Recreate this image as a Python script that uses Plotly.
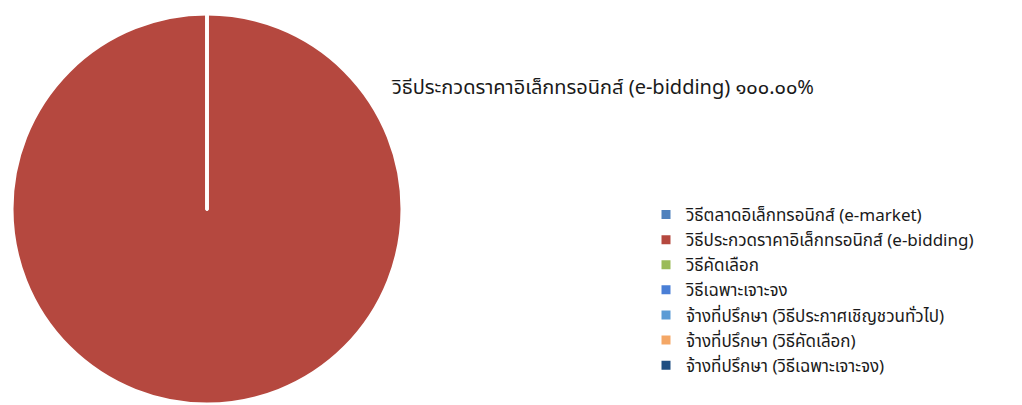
import plotly.graph_objects as go

# ---- data ----
labels = [
    "วิธีตลาดอิเล็กทรอนิกส์ (e-market)",
    "วิธีประกวดราคาอิเล็กทรอนิกส์ (e-bidding)",
    "วิธีคัดเลือก",
    "วิธีเฉพาะเจาะจง",
    "จ้างที่ปรึกษา (วิธีประกาศเชิญชวนทั่วไป)",
    "จ้างที่ปรึกษา (วิธีคัดเลือก)",
    "จ้างที่ปรึกษา (วิธีเฉพาะเจาะจง)",
]
values = [0, 100, 0, 0, 0, 0, 0]
colors = ["#4F81BD", "#B5483F", "#9BBB59", "#4A7FD6", "#5B9BD5", "#F4A766", "#1F4E82"]

FONT = "Noto Sans Thai, Noto Sans, Tahoma, sans-serif"

thai_digits = str.maketrans("0123456789", "๐๑๒๓๔๕๖๗๘๙")
total = sum(values)
idx_max = values.index(max(values))
pct_text = f"{values[idx_max] / total * 100:.2f}".translate(thai_digits) + "%"
label_text = f"{labels[idx_max]} {pct_text}"

W, H = 1022, 405
T, B = 6, 9
PH = H - T - B  # plot area height

fig = go.Figure()
fig.add_trace(go.Pie(
    labels=labels,
    values=values,
    sort=False,
    direction="clockwise",
    rotation=0,
    marker=dict(colors=colors, line=dict(color="white", width=3)),
    textinfo="none",
    hoverinfo="label+percent",
    domain=dict(x=[4 / W, 394 / W], y=[0, 1]),
))

fig.add_annotation(
    text=label_text,
    xref="paper", yref="paper",
    x=381 / W, y=(H - B - 80) / PH,
    xanchor="left", yanchor="middle",
    showarrow=False,
    font=dict(family=FONT, size=20, color="#1A1A1A"),
)

fig.update_layout(
    width=W, height=H,
    margin=dict(l=0, r=0, t=T, b=B),
    paper_bgcolor="white",
    plot_bgcolor="white",
    font=dict(family=FONT, size=17, color="#1A1A1A"),
    showlegend=True,
    legend=dict(
        x=638 / W, y=(H - B - 189) / PH,
        xanchor="left", yanchor="top",
        font=dict(family=FONT, size=17, color="#1A1A1A"),
        tracegroupgap=0,
        bgcolor="rgba(0,0,0,0)",
    ),
)

fig.write_html("out.html")
